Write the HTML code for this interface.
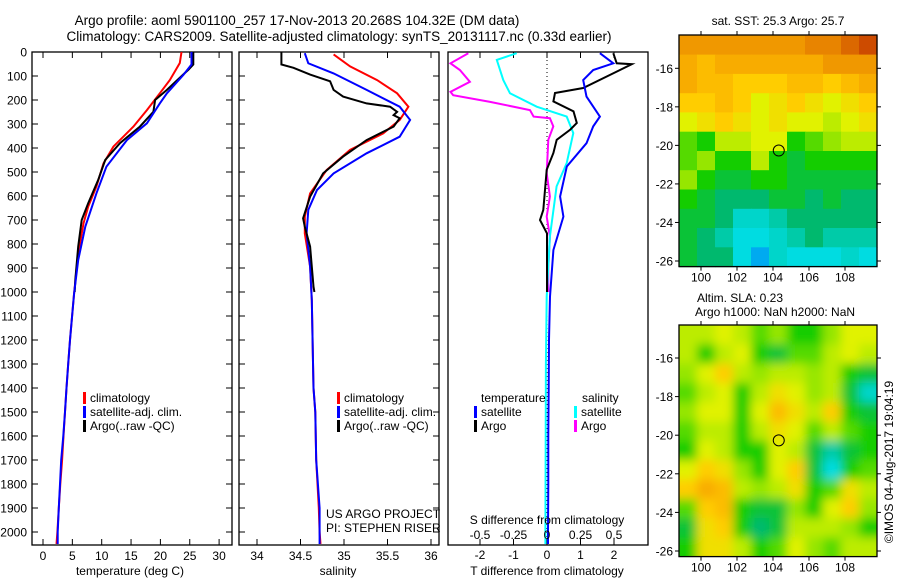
<!DOCTYPE html>
<html><head><meta charset="utf-8">
<style>
html,body{margin:0;padding:0;background:#fff;}
svg{display:block;font-family:"Liberation Sans",sans-serif;}
text{fill:#000;}
</style></head>
<body>
<svg id="fig" width="900" height="580" viewBox="0 0 900 580" xmlns="http://www.w3.org/2000/svg">
<defs>
<clipPath id="c1"><rect x="32" y="52" width="200" height="493"/></clipPath>
<clipPath id="c2"><rect x="239" y="52" width="200" height="493"/></clipPath>
<clipPath id="c3"><rect x="448" y="52" width="200" height="493"/></clipPath>
<clipPath id="cm2"><rect x="679" y="325" width="198" height="231"/></clipPath>
<filter id="blur" x="-10%" y="-10%" width="120%" height="120%"><feGaussianBlur stdDeviation="5"/></filter>
</defs>
<text x="297" y="25" font-size="13.5" text-anchor="middle">Argo profile: aoml 5901100_257 17-Nov-2013 20.268S 104.32E (DM data)</text>
<text x="339" y="41" font-size="13.5" text-anchor="middle">Climatology: CARS2009. Satellite-adjusted climatology: synTS_20131117.nc (0.33d earlier)</text>
<g id="plots"></g>
</svg>
<script>
// ---------- data ----------
const depthTicks=[0,100,200,300,400,500,600,700,800,900,1000,1100,1200,1300,1400,1500,1600,1700,1800,1900,2000];
const tempTicks=[0,5,10,15,20,25,30];
const salTicks=[34,34.5,35,35.5,36];
const tdiffTicks=[-2,-1,0,1,2];
const sdiffTicks=[-0.5,-0.25,0,0.25,0.5];
const lonTicks=[100,102,104,106,108];
const latTicks=[-16,-18,-20,-22,-24,-26];

const climTempDepth=[0,46,117,172,242,311,394,464,561,644,714,839,1006,1100,1200,1300,1400,1500,1600,1700,1800,1900,2000,2050];
const climTemp=[23.6,23.3,21.6,19.9,17.7,15.4,12.0,10.3,9.1,7.7,6.9,6.0,5.3,4.95,4.6,4.3,4.0,3.75,3.5,3.25,2.95,2.7,2.45,2.3];
const satTempDepth=[0,52,96,172,214,297,367,478,589,728,867,1006,1100,1200,1300,1400,1500,1600,1700,1800,1900,2000,2050];
const satTemp=[25.3,25.3,23.9,21.1,19.9,17.7,14.3,10.8,9.1,7.2,6.0,5.3,4.95,4.6,4.3,4.0,3.75,3.45,3.1,2.9,2.7,2.5,2.5];
const argoTempDepth=[0,52,73,158,200,249,311,380,450,533,630,700,811,950,1000];
const argoTemp=[25.6,25.6,24.8,21.1,19.1,18.8,16.5,13.1,10.6,9.4,7.7,6.6,6.0,5.5,5.4];

const climSalDepth=[10,60,117,172,228,283,339,408,492,589,686,756,894,1033,1400,1500,1700,1900,2000,2050];
const climSal=[34.88,35.07,35.38,35.61,35.74,35.64,35.45,35.07,34.80,34.61,34.55,34.55,34.61,34.63,34.65,34.67,34.68,34.71,34.72,34.73];
const satSalDepth=[5,47,89,158,228,283,353,422,506,575,658,756,894,1033,1400,1500,1700,1900,2000,2050];
const satSal=[34.55,34.59,34.88,35.26,35.64,35.76,35.64,35.26,34.88,34.69,34.59,34.57,34.61,34.63,34.65,34.67,34.68,34.72,34.72,34.72];
const argoSalDepth=[0,52,66,94,122,158,186,214,228,249,263,276,311,367,436,506,603,693,728,811,978,1000];
const argoSal=[34.28,34.28,34.42,34.61,34.84,34.88,34.99,35.26,35.53,35.61,35.57,35.64,35.57,35.26,34.99,34.76,34.61,34.53,34.55,34.61,34.65,34.66];

const argoTdiffDepth=[5,47,51,75,150,171,206,247,296,324,366,421,491,658,700,756,850,1000];
const argoTdiff=[1.98,2.08,2.53,2.18,1.08,0.24,0.19,0.79,0.89,0.69,0.29,0.19,-0.01,-0.11,-0.21,0.0,0.0,0.0];
const satTdiffDepth=[5,47,75,117,186,269,310,380,477,602,686,825,1019,1200,1400,1600,1800,2000,2050];
const satTdiff=[1.58,1.98,1.38,1.08,1.18,1.58,1.38,1.18,0.59,0.39,0.49,0.19,0.09,0.06,0.05,0.04,0.04,0.03,0.03];
const satSdiffDepth=[5,33,117,172,228,269,338,463,560,769,1019,1300,1600,2000,2050];
const satSdiff=[-0.226,-0.375,-0.326,-0.276,-0.077,0.147,0.196,0.147,0.072,0.022,-0.002,-0.008,-0.01,-0.012,-0.012];
const argoSdiffDepth=[5,47,75,124,166,180,208,242,269,276,310,366,505,602,686,769,900,1000];
const argoSdiff=[-0.587,-0.72,-0.65,-0.575,-0.72,-0.70,-0.425,-0.127,-0.10,0.022,0.047,0.01,-0.002,0.022,-0.002,0.022,0.01,0.01];

// map grids: rows from lat -14.29 down, cols from lon 98.78 east (1 deg cells)
const sstGrid=[
[0.75,0.75,0.75,0.75,0.75,0.75,0.75,0.8,0.8,0.85,0.9],
[0.7,0.65,0.7,0.7,0.7,0.7,0.7,0.7,0.75,0.75,0.75],
[0.7,0.65,0.65,0.6,0.6,0.6,0.65,0.65,0.6,0.65,0.7],
[0.6,0.6,0.65,0.6,0.5,0.55,0.6,0.55,0.5,0.55,0.6],
[0.5,0.55,0.6,0.55,0.5,0.55,0.5,0.5,0.45,0.5,0.55],
[0.35,0.3,0.45,0.45,0.5,0.5,0.3,0.35,0.4,0.45,0.45],
[0.35,0.4,0.3,0.3,0.45,0.3,0.25,0.3,0.3,0.3,0.3],
[0.4,0.3,0.25,0.25,0.3,0.3,0.25,0.25,0.25,0.25,0.25],
[0.3,0.25,0.2,0.2,0.2,0.25,0.25,0.2,0.25,0.2,0.2],
[0.25,0.25,0.2,0.12,0.12,0.15,0.2,0.2,0.2,0.2,0.2],
[0.25,0.2,0.15,0.1,0.1,0.12,0.15,0.2,0.15,0.15,0.15],
[0.25,0.2,0.2,0.1,0.05,0.12,0.1,0.1,0.1,0.12,0.1]];
const slaGrid=[
[0.45,0.45,0.5,0.45,0.35,0.4,0.3,0.3,0.4,0.5,0.5],
[0.45,0.3,0.45,0.5,0.3,0.25,0.35,0.35,0.45,0.5,0.45],
[0.4,0.5,0.6,0.45,0.4,0.45,0.45,0.4,0.45,0.3,0.25],
[0.35,0.45,0.5,0.3,0.45,0.55,0.5,0.4,0.45,0.25,0.12],
[0.4,0.5,0.5,0.3,0.5,0.65,0.55,0.45,0.6,0.3,0.25],
[0.35,0.45,0.45,0.3,0.45,0.55,0.5,0.35,0.45,0.35,0.3],
[0.3,0.5,0.45,0.3,0.3,0.5,0.45,0.25,0.15,0.25,0.3],
[0.5,0.6,0.55,0.4,0.3,0.5,0.6,0.25,0.1,0.3,0.35],
[0.6,0.7,0.65,0.45,0.4,0.45,0.55,0.3,0.35,0.55,0.45],
[0.35,0.6,0.65,0.3,0.25,0.25,0.4,0.3,0.5,0.6,0.4],
[0.25,0.55,0.6,0.3,0.2,0.25,0.45,0.45,0.45,0.4,0.3],
[0.3,0.55,0.55,0.45,0.3,0.35,0.5,0.4,0.35,0.45,0.45]];
const argoLon=104.32, argoLat=-20.268;

// ---------- scales ----------
const NS='http://www.w3.org/2000/svg';
const root=document.getElementById('plots');
const yD=d=>52+d*0.24;
const xT=t=>43+t*5.87;
const xS=s=>257+(s-34)*87;
const xTd=t=>547+t*33.5;
const xSd=s=>547+s*134;
const xLon=l=>701+(l-100)*18;
const yLat1=l=>68.3+(-16-l)*19.27;
const yLat2=l=>358+(-16-l)*19.3;

function mk(tag,attrs,parent){const e=document.createElementNS(NS,tag);for(const k in attrs)e.setAttribute(k,attrs[k]);(parent||root).appendChild(e);return e;}
function txt(x,y,s,size,anchor,parent){const t=mk('text',{x:x,y:y,'font-size':size,'text-anchor':anchor||'middle'},parent);t.textContent=s;return t;}

function panel(x0,name){
  const g=mk('g',{});
  
  
  const r=mk('rect',{x:x0,y:52,width:200,height:493,fill:'none',stroke:'#000','stroke-width':1.3},g);
  
  
  return g;
}
function line(g,xs,ds,fx,color,clip,name){
  const pts=xs.map((v,i)=>fx(v).toFixed(1)+','+yD(ds[i]).toFixed(1)).join(' ');
  const p=mk('polyline',{points:pts,fill:'none',stroke:color,'stroke-width':2,'clip-path':'url(#'+clip+')'},g);
  
  
}
function depthTickMarks(g,x0){
  depthTicks.forEach(d=>{
    mk('line',{x1:x0,x2:x0+6,y1:yD(d),y2:yD(d),stroke:'#000'},g);
    mk('line',{x1:x0+200,x2:x0+194,y1:yD(d),y2:yD(d),stroke:'#000'},g);
  });
}
function xTickMarks(g,vals,fx){
  vals.forEach(v=>{
    mk('line',{x1:fx(v),x2:fx(v),y1:52,y2:58,stroke:'#000'},g);
    mk('line',{x1:fx(v),x2:fx(v),y1:545,y2:539,stroke:'#000'},g);
  });
}
function legend(g,x,y,items){
  items.forEach((it,i)=>{
    const m=mk('rect',{x:x,y:y+i*14-10,width:3,height:12,fill:it[1]},g);
    
    
    const t=txt(x+7,y+i*14,it[0],12,'start',g);
    
    
  });
}

// ---------- panel 1: temperature ----------
const g1=panel(32,'temperature-panel');
depthTicks.forEach(d=>{const t=txt(27,yD(d)+4.5,String(d),12,'end',g1);});
depthTickMarks(g1,32); xTickMarks(g1,tempTicks,xT);
tempTicks.forEach(v=>{const t=txt(xT(v),560,String(v),12,'middle',g1);});
const tt1=txt(130,575,'temperature (deg C)',12,'middle',g1);

line(g1,climTemp,climTempDepth,xT,'#ff0000','c1','climatology-temperature-line');
line(g1,argoTemp,argoTempDepth,xT,'#000000','c1','argo-temperature-line');
line(g1,satTemp,satTempDepth,xT,'#0000ff','c1','satellite-temperature-line');
legend(g1,83,402,[['climatology','#ff0000','climatology'],['satellite-adj. clim.','#0000ff','satellite'],['Argo(..raw -QC)','#000','argo']]);

// ---------- panel 2: salinity ----------
const g2=panel(239,'salinity-panel');
depthTickMarks(g2,239); xTickMarks(g2,salTicks,xS);
salTicks.forEach(v=>{const t=txt(xS(v),560,String(v),12,'middle',g2);});
const tt2=txt(338,575,'salinity',12,'middle',g2);

line(g2,climSal,climSalDepth,xS,'#ff0000','c2','climatology-salinity-line');
line(g2,satSal,satSalDepth,xS,'#0000ff','c2','satellite-salinity-line');
line(g2,argoSal,argoSalDepth,xS,'#000000','c2','argo-salinity-line');
legend(g2,337,402,[['climatology','#ff0000','climatology-s'],['satellite-adj. clim.','#0000ff','satellite-s'],['Argo(..raw -QC)','#000','argo-s']]);
const pr1=txt(326,518,'US ARGO PROJECT',12,'start',g2);
const pr2=txt(326,532,'PI: STEPHEN RISER',12,'start',g2);

// ---------- panel 3: differences ----------
const g3=panel(448,'difference-panel');
xTickMarks(g3,tdiffTicks,xTd);
const zl=mk('line',{x1:xTd(0),x2:xTd(0),y1:52,y2:545,stroke:'#000','stroke-dasharray':'1,3'},g3);

line(g3,argoSdiff,argoSdiffDepth,xSd,'#ff00ff','c3','argo-salinity-diff-line');
line(g3,satSdiff,satSdiffDepth,xSd,'#00ffff','c3','satellite-salinity-diff-line');
line(g3,argoTdiff,argoTdiffDepth,xTd,'#000000','c3','argo-temperature-diff-line');
line(g3,satTdiff,satTdiffDepth,xTd,'#0000ff','c3','satellite-temperature-diff-line');
tdiffTicks.forEach(v=>{const t=txt(xTd(v),559,String(v),12,'middle',g3);});
sdiffTicks.forEach(v=>{const t=txt(xSd(v),539,String(v),12,'middle',g3);});
const st=txt(547,524,'S difference from climatology',12,'middle',g3);
const tdt=txt(547,575,'T difference from climatology',12,'middle',g3);
const lt=txt(481,402,'temperature',12,'start',g3);
const ls=txt(582,402,'salinity',12,'start',g3);
legend(g3,474,416,[['satellite','#0000ff','tdiff-satellite'],['Argo','#000','tdiff-argo']]);
legend(g3,574,416,[['satellite','#00ffff','sdiff-satellite'],['Argo','#ff00ff','sdiff-argo']]);

// ---------- maps ----------
const cstops=[[0,[0,120,255]],[0.1,[0,220,225]],[0.2,[0,185,110]],[0.3,[20,205,0]],[0.4,[150,230,0]],[0.5,[225,242,0]],[0.6,[255,205,0]],[0.7,[248,172,0]],[0.8,[232,132,0]],[0.9,[205,75,0]],[1,[170,30,0]]];
function cmap(v){
  for(let i=0;i<cstops.length-1;i++){const a=cstops[i],b=cstops[i+1];
    if(v<=b[0]){const f=(v-a[0])/(b[0]-a[0]);return 'rgb('+a[1].map((c,k)=>Math.round(c+(b[1][k]-c)*f)).join(',')+')';}}
  return 'rgb(170,30,0)';
}
function mapPanel(grid,yLat,top,name,blur,clip){
  const g=mk('g',{});
  
  
  const inner=mk('g',clip?{'clip-path':'url(#'+clip+')'}:{},g);
  const cells=mk('g',blur?{filter:'url(#blur)'}:{},inner);
  const lon0=98.78, lat0=-14.29;
  const nR=grid.length, nC=grid[0].length;
  grid.forEach((row,r)=>row.forEach((v,c)=>{
    let x1=xLon(lon0+c), x2=xLon(lon0+c+1);
    let y1=yLat(lat0-r), y2=yLat(lat0-r-1);
    if(blur){ if(c===0)x1-=15; if(c===nC-1)x2+=15; if(r===0)y1-=15; if(r===nR-1)y2+=15; }
    const rc=mk('rect',{x:x1.toFixed(1),y:y1.toFixed(1),width:(x2-x1+0.6).toFixed(1),height:(y2-y1+0.6).toFixed(1),fill:cmap(v)},cells);
    
    
  }));
  const bottom=yLat(-26.29);
  const fr=mk('rect',{x:679,y:top,width:198,height:bottom-top,fill:'none',stroke:'#000','stroke-width':1.3},g);
  
  lonTicks.forEach(l=>{
    mk('line',{x1:xLon(l),x2:xLon(l),y1:top,y2:top-4,stroke:'#000'},g);
    mk('line',{x1:xLon(l),x2:xLon(l),y1:bottom,y2:bottom+4,stroke:'#000'},g);
    const t=txt(xLon(l),bottom+15,String(l),12,'middle',g);
  });
  latTicks.forEach(l=>{
    mk('line',{x1:679,x2:675,y1:yLat(l),y2:yLat(l),stroke:'#000'},g);
    mk('line',{x1:877,x2:881,y1:yLat(l),y2:yLat(l),stroke:'#000'},g);
    const t=txt(673,yLat(l)+4.5,String(l),12,'end',g);
  });
  const m=mk('circle',{cx:xLon(argoLon),cy:yLat(argoLat),r:5.5,fill:'none',stroke:'#000','stroke-width':1},g);
  
  return g;
}
mapPanel(sstGrid,yLat1,35,'sst-map',false,null);
mapPanel(slaGrid,yLat2,325,'sla-map',true,'cm2');
const m1=txt(778,25,'sat. SST: 25.3 Argo: 25.7',12,'middle');
const m2=txt(740,302,'Altim. SLA: 0.23',12,'middle');
const m3=txt(775,316,'Argo h1000: NaN h2000: NaN',12,'middle');
const cr=txt(0,0,'©IMOS 04-Aug-2017 19:04:19',12,'middle');
cr.setAttribute('transform','translate(893,462) rotate(-90)');


</script>
</body></html>
